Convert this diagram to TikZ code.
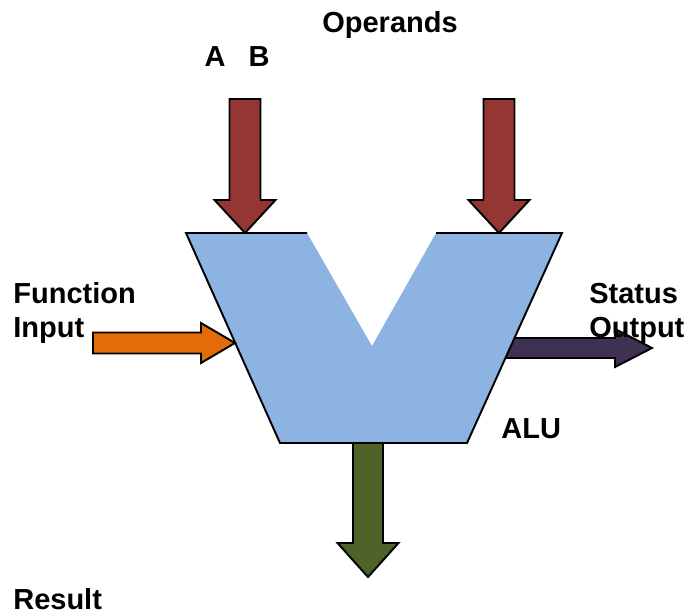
\documentclass[tikz,border=0pt]{standalone}
\usepackage{fontspec}
\setmainfont{Liberation Sans}
\usepackage{tikz}
\usetikzlibrary{calc}
\definecolor{opRed}{HTML}{943634}
\definecolor{aluBlue}{HTML}{8DB3E2}
\definecolor{fnOrange}{HTML}{E36C09}
\definecolor{stPurple}{HTML}{3F3151}
\definecolor{resGreen}{HTML}{4F6228}
\tikzset{
    arrowLine/.style={draw=black, line width=1.1pt, line join=miter},
    lbl/.style={inner sep=0pt, font=\fontsize{16.5}{19.4}\selectfont\bfseries, align=left}
}
% block arrow: fill, tail, tip, half shaft width, half head width, head length (cm)
\newcommand{\blockArrow}[6]{%
    \coordinate (hb) at ($(#3)!#6cm!(#2)$);
    \draw[arrowLine, fill=#1]
        ($(#2)!#4cm!90:(#3)$) -- ($(hb)!#4cm!90:(#3)$) -- ($(hb)!#5cm!90:(#3)$) -- (#3)
        -- ($(hb)!#5cm!-90:(#3)$) -- ($(hb)!#4cm!-90:(#3)$) -- ($(#2)!#4cm!-90:(#3)$) -- cycle;
}

\begin{document}
\begin{tikzpicture}
    \useasboundingbox (0,0) rectangle (13.78,12.30);
    % --- outputs, tails hidden under the ALU ---
    \coordinate (stTail) at (9.60,5.34);  \coordinate (stTip) at (13.04,5.34);
    \coordinate (resTail) at (7.36,3.70); \coordinate (resTip) at (7.36,0.76);
    \blockArrow{stPurple}{stTail}{stTip}{0.20}{0.38}{0.74}
    \blockArrow{resGreen}{resTail}{resTip}{0.30}{0.61}{0.68}
    % --- ALU body ---
    \coordinate (tl) at (3.72,7.64);  \coordinate (nl) at (6.14,7.64);
    \coordinate (nb) at (7.44,5.38);  \coordinate (nr) at (8.72,7.64);
    \coordinate (tr) at (11.24,7.64); \coordinate (br) at (9.34,3.44);
    \coordinate (bl) at (5.60,3.44);
    \fill[aluBlue] (tl)--(nl)--(nb)--(nr)--(tr)--(br)--(bl)--cycle;
    \draw[line width=1.1pt, line join=miter] (nl)--(tl)--(bl)--(br)--(tr)--(nr);
    % --- inputs ---
    \coordinate (aTail) at (4.90,10.32); \coordinate (aTip) at (4.90,7.64);
    \coordinate (bTail) at (9.98,10.32); \coordinate (bTip) at (9.98,7.64);
    \coordinate (fnTail) at (1.86,5.44); \coordinate (fnTip) at (4.70,5.44);
    \blockArrow{opRed}{aTail}{aTip}{0.31}{0.61}{0.66}
    \blockArrow{opRed}{bTail}{bTip}{0.31}{0.61}{0.66}
    \blockArrow{fnOrange}{fnTail}{fnTip}{0.21}{0.40}{0.68}
    % --- labels ---
    \node[lbl, anchor=base] (operands) at (7.80,11.64) {Operands};
    \node[lbl, anchor=base] (opA) at (4.30,10.96) {A};
    \node[lbl, anchor=base] (opB) at (5.18,10.96) {B};
    \node[lbl, anchor=base west] (fnIn) at (0.26,5.54) {Function\\Input};
    \node[lbl, anchor=base west] (stOut) at (11.78,5.54) {Status\\Output};
    \node[lbl, anchor=base west] (alu) at (10.02,3.54) {ALU};
    \node[lbl, anchor=base west] (result) at (0.26,0.12) {Result};
\end{tikzpicture}
\end{document}
